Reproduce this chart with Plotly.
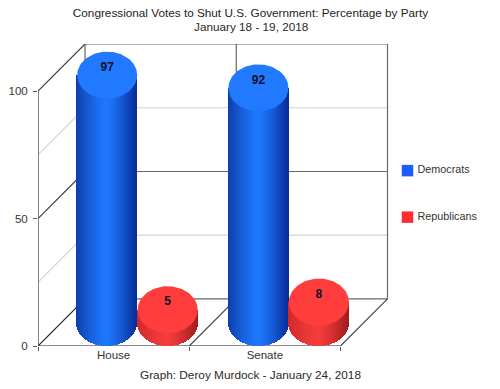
import numpy as np
import plotly.graph_objects as go

categories = ["House", "Senate"]
democrats = [97, 92]
republicans = [5, 8]
series_names = ["Democrats", "Republicans"]
y_ticks = [0, 50, 100]
light_grid = [25, 75]
dark_grid = [50]
title_line = "Congressional Votes to Shut U.S. Government: Percentage by Party"
date_line = "January 18 - 19, 2018"
credit_line = "Graph: Deroy Murdock - January 24, 2018"

# ---- geometry (page pixels -> axis units)
W, H = 500, 389
L, T, BOTTOM_PX = 38.0, 44.0, 345.7
PX_PER_VAL = 2.547
PX_PER_CAT = 151.25
DEPTH_PX = 47.0
DX = DEPTH_PX / PX_PER_CAT
DY = DEPTH_PX / PX_PER_VAL
RX = 30.0 / PX_PER_CAT
RY = DY / 2
OFFSET = 0.2
x_range = [0, (W - L) / PX_PER_CAT]
y_range = [0, (BOTTOM_PX - T) / PX_PER_VAL]
n_cat = len(categories)


def shade(t, edge_l, mid, edge_r):
    a = abs(t) ** 1.3
    edge = edge_l if t < 0 else edge_r
    return "rgb(%d,%d,%d)" % tuple(int(round(m + (e - m) * a)) for m, e in zip(mid, edge))


def cylinder(xc, value, colors):
    ts = (np.arange(60) + 0.5) / 60 * 2 - 1
    xs = xc + DX / 2 + ts * RX
    base = RY * (1 - np.sqrt(1 - ts ** 2))
    top = RY + value
    return go.Bar(
        x=xs, y=top - base, base=base, width=RX * 2 / 60 * 1.6,
        marker=dict(color=[shade(t, *colors) for t in ts], line=dict(width=0)),
        showlegend=False, hoverinfo="skip",
    )


def cap(xc, value, color):
    a = np.linspace(0, 2 * np.pi, 120)
    return go.Scatter(
        x=xc + DX / 2 + RX * np.cos(a), y=value + RY + RY * np.sin(a),
        mode="lines", fill="toself", fillcolor=color, line=dict(width=0, color=color),
        showlegend=False, hoverinfo="skip",
    )


BLUE = ((14, 62, 170), (30, 120, 255), (8, 45, 150))
RED = ((205, 42, 42), (246, 60, 60), (160, 28, 28))
BLUE_CAP, RED_CAP = "#2079ff", "#ff3d3d"
NUDGE = 0.3 / PX_PER_CAT

fig = go.Figure()
for i in range(n_cat):
    fig.add_trace(cylinder(i + 0.5 - OFFSET + NUDGE, democrats[i], BLUE))
    fig.add_trace(cylinder(i + 0.5 + OFFSET + NUDGE, republicans[i], RED))
for i in range(n_cat):
    fig.add_trace(cap(i + 0.5 - OFFSET + NUDGE, democrats[i], BLUE_CAP))
    fig.add_trace(cap(i + 0.5 + OFFSET + NUDGE, republicans[i], RED_CAP))

# value labels on the caps
lab_x, lab_y, lab_t = [], [], []
for i in range(n_cat):
    for off, v in ((-OFFSET, democrats[i]), (OFFSET, republicans[i])):
        lab_x.append(i + 0.5 + off + DX / 2 + NUDGE)
        lab_y.append(v + RY + 2.9)
        lab_t.append(str(v))
fig.add_trace(go.Scatter(
    x=lab_x, y=lab_y, text=lab_t, mode="text", textposition="middle center",
    textfont=dict(family="Liberation Sans", size=12, color="#0a0f28", weight="bold"),
    showlegend=False, hoverinfo="skip",
))

# legend drawn as marker + text
leg_x = (407.5 - L) / PX_PER_CAT
leg_tx = (417.5 - L) / PX_PER_CAT
leg_y = [(BOTTOM_PX - 170.5) / PX_PER_VAL, (BOTTOM_PX - 217) / PX_PER_VAL]
for name, color, y in zip(series_names, ["#1a5cff", "#ff2d35"], leg_y):
    fig.add_trace(go.Scatter(
        x=[leg_x], y=[y], mode="markers",
        marker=dict(symbol="square", size=11.5, color=color, line=dict(width=0)),
        showlegend=False, hoverinfo="skip", name=name,
    ))
    fig.add_trace(go.Scatter(
        x=[leg_tx], y=[y], text=[name], mode="text", textposition="middle right",
        textfont=dict(family="Liberation Sans", size=10.8, color="#333333"),
        showlegend=False, hoverinfo="skip", name=name,
    ))

# chart box
shapes = []


def seg(x0, y0, x1, y1, color, width=1.2):
    shapes.append(dict(type="line", xref="x", yref="y", x0=x0, y0=y0, x1=x1, y1=y1,
                       layer="below", line=dict(color=color, width=width)))


DARK, LIGHT = "#666666", "#d4d4d4"
for v in light_grid:
    seg(0, v, DX, v + DY, LIGHT)
    seg(DX, v + DY, n_cat + DX, v + DY, LIGHT)
for v in dark_grid:
    seg(0, v, DX, v + DY, "#444444")
    seg(DX, v + DY, n_cat + DX, v + DY, DARK)
top = max(y_ticks)
seg(0, 0, 0, top, DARK, 1.6)
seg(0, 0, n_cat, 0, DARK, 1.6)
seg(DX, DY, DX, top + DY, DARK)
seg(DX, top + DY, n_cat + DX, top + DY, DARK)
seg(n_cat + DX, DY, n_cat + DX, top + DY, DARK)
seg(DX, DY, n_cat + DX, DY, DARK)
seg(0, top, DX, top + DY, "#444444")
for i in range(n_cat + 1):
    seg(i, 0, i + DX, DY, "#222222" if i == 0 else "#444444")
for i in range(1, n_cat):
    seg(i + DX, DY, i + DX, top + DY, DARK)


def page_note(text, px, py, size):
    return dict(
        text=text, xref="paper", yref="paper",
        x=(px - L) / (W - L), y=(BOTTOM_PX - py) / (BOTTOM_PX - T),
        xanchor="center", yanchor="middle", showarrow=False,
        font=dict(family="Liberation Sans", size=size, color="#2a2a2a"),
    )


fig.update_layout(
    width=W, height=H, autosize=False,
    margin=dict(l=L, r=0, t=T, b=H - BOTTOM_PX, pad=0),
    paper_bgcolor="white", plot_bgcolor="white",
    barmode="overlay", bargap=0, showlegend=False,
    shapes=shapes,
    title=dict(
        text=title_line, x=250.5 / W, xanchor="center", y=1 - 13 / H, yanchor="middle",
        font=dict(family="Liberation Sans", size=11.75, color="#222222"),
    ),
    xaxis=dict(
        range=x_range, showgrid=False, zeroline=False, showline=False,
        tickmode="array", tickvals=[i + 0.5 for i in range(n_cat)], ticktext=categories,
        ticks="", ticklen=4,
        minor=dict(tickmode="array", tickvals=list(range(n_cat + 1)), ticks="outside",
                   ticklen=4, tickwidth=1.2, tickcolor="#555555", showgrid=False),
        tickfont=dict(family="Liberation Sans", size=11.5, color="#333333"),
    ),
    yaxis=dict(
        range=y_range, showgrid=False, zeroline=False, showline=False,
        tickmode="array", tickvals=y_ticks, ticks="outside", ticklen=4, tickwidth=1.2,
        tickcolor="#555555", ticklabelstandoff=3,
        tickfont=dict(family="Liberation Sans", size=11.5, color="#333333"),
    ),
    annotations=[
        page_note(date_line, 251, 27, 11.75),
        page_note(credit_line, 250.5, 375, 11.8),
    ],
)

fig.write_html(
    "out.html",
    config={"displayModeBar": False},
    post_script="document.body.style.margin='0';document.body.style.overflow='hidden';",
)
